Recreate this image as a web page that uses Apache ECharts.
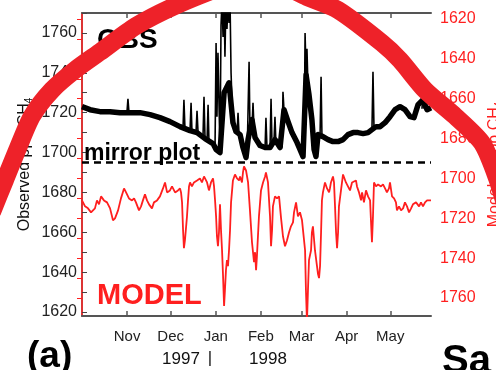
<!DOCTYPE html>
<html>
<head>
<meta charset="utf-8">
<script src="https://cdn.jsdelivr.net/npm/echarts@6/dist/echarts.min.js"></script>
<style>
  html, body { margin: 0; padding: 0; background: #fff; }
  #chart { width: 496px; height: 370px; }
</style>
</head>
<body>
<div id="chart"></div>
<script>
// x = days since 1 Oct 1997
var monthNames = ['Nov', 'Dec', 'Jan', 'Feb', 'Mar', 'Apr', 'May'];
var monthStarts = [31, 61, 92, 123, 151, 182, 212];

var obsLabels = [1620, 1640, 1660, 1680, 1700, 1720, 1740, 1760];
var obsTicks = [1620, 1630, 1640, 1650, 1660, 1670, 1680, 1690, 1700, 1710, 1720, 1730, 1740, 1750, 1760, 1770];
var modLabels = [1620, 1640, 1660, 1680, 1700, 1720, 1740, 1760];
var modTicks = [1620, 1630, 1640, 1650, 1660, 1670, 1680, 1690, 1700, 1710, 1720, 1730, 1740, 1750, 1760];

// observed CH4, background level (ppb)
var obsBand = [
  [0, 1723], [5.5, 1721.5], [12.4, 1720.5], [19.3, 1720.5], [26.1, 1720], [33, 1720], [39.9, 1720],
  [46.8, 1719], [53.6, 1717.5], [60.5, 1715.5], [67.4, 1713], [74.3, 1711], [79.1, 1710], [84.6, 1707],
  [90.1, 1704.5], [92.2, 1701.5], [94.9, 1700], [97.7, 1730], [101.1, 1735], [103.8, 1715], [105.9, 1710.5],
  [108.7, 1709], [110.7, 1702.5], [112.8, 1697.5], [114.2, 1706.5], [116.9, 1716.5], [119, 1707.5],
  [122.4, 1703.5], [125.9, 1702.5], [129.3, 1702.5], [132.7, 1706.5], [136.2, 1702.5], [138.9, 1721.5],
  [141.7, 1715.5], [144.4, 1710], [147.9, 1705], [149.9, 1701.5], [152, 1698], [154.1, 1739], [156.1, 1729],
  [158.1, 1716.5], [159.6, 1701.5], [160.9, 1698], [162.3, 1709], [165.7, 1708], [169.2, 1706.5],
  [172.6, 1705.5], [176.1, 1705.5], [179.5, 1706.5], [182.9, 1709], [186.4, 1710], [189.8, 1710],
  [193.3, 1709.5], [196.7, 1710], [199.4, 1711.5], [202.2, 1713], [205, 1713], [208.4, 1715], [211.8, 1718],
  [215.3, 1721.5], [218.7, 1723], [222.1, 1721.5], [225.6, 1718], [228.3, 1717.5], [231.1, 1724],
  [234.5, 1726.5], [237.3, 1721.5], [240, 1722.5]
];

// observed CH4, pollution events (ppb)
var obsSpikes = [
  [[30.9, 1720], [31.6, 1727], [32.3, 1720]],
  [[69.5, 1713], [70.1, 1726.5], [70.8, 1712]],
  [[74.3, 1711], [75, 1725], [75.6, 1711]],
  [[78.4, 1710], [79.1, 1721], [79.8, 1710]],
  [[83.2, 1707.5], [83.9, 1728], [84.6, 1707]],
  [[86, 1706], [86.7, 1724], [87.3, 1706]],
  [[90.1, 1704.5], [91.5, 1704], [92.2, 1755], [92.8, 1718], [93.5, 1750], [94.9, 1700], [95.6, 1764],
   [96.3, 1776], [97, 1758], [97.7, 1776], [98.3, 1748], [99, 1776], [99.7, 1762], [100.4, 1776],
   [101.1, 1765], [101.8, 1776], [102.5, 1740], [103.2, 1725], [103.8, 1715]],
  [[106.6, 1709], [107.3, 1720], [108, 1709]],
  [[113.5, 1697], [114.9, 1745.5], [115.5, 1712]],
  [[117, 1714], [117.6, 1725], [118.3, 1712]],
  [[125.9, 1702.5], [126.5, 1717.5], [127.2, 1702.5]],
  [[129.3, 1702.5], [130, 1727], [130.7, 1703]],
  [[132, 1705], [132.7, 1718], [133.4, 1704]],
  [[137.6, 1702.5], [138.2, 1730.5], [138.9, 1721.5]],
  [[152.7, 1698], [153.4, 1760], [154.1, 1739], [154.7, 1752], [155.4, 1733]],
  [[163.7, 1708], [164.4, 1738], [165, 1709]],
  [[199.4, 1711.5], [200.1, 1740.5], [200.8, 1712]],
  [[233.8, 1722], [234.5, 1730], [235.2, 1722]]
];

// modelled CH4 (ppb), plotted on the inverted right axis
var model = [
  [0, 1711], [2.1, 1714], [4.1, 1715], [6.2, 1717], [8.9, 1715], [10.3, 1711], [11.7, 1713], [13.1, 1709],
  [15.1, 1711], [17.2, 1712], [19.3, 1715], [21.3, 1721], [22.7, 1720], [24.8, 1716], [26.8, 1710],
  [28.9, 1705], [30.3, 1707], [32.3, 1710], [34.4, 1711], [35.8, 1710], [37.1, 1712], [39.2, 1716],
  [40.6, 1714], [41.9, 1711], [43.3, 1708], [44.7, 1711], [46.1, 1713], [48.1, 1715], [49.5, 1712],
  [51.6, 1711], [53.6, 1709], [55.7, 1705], [57.1, 1702], [58.5, 1707], [60.5, 1706], [61.9, 1704],
  [64, 1707], [66, 1706], [67.4, 1705], [68.1, 1707], [68.8, 1712], [69.5, 1726], [70.1, 1735],
  [70.8, 1731], [71.5, 1732], [72.2, 1719], [72.9, 1711], [73.6, 1704], [74.3, 1702], [75.6, 1704],
  [77, 1702], [79.1, 1701], [81.1, 1700], [82.5, 1702], [83.9, 1699], [86, 1702], [87.3, 1706],
  [88.7, 1702], [90.1, 1700], [90.8, 1704], [91.5, 1711], [92.2, 1719], [92.8, 1729], [93.5, 1734],
  [94.2, 1727], [94.9, 1713], [95.6, 1726], [96.3, 1736], [97, 1749], [97.7, 1764], [98.3, 1756],
  [99, 1746], [99.7, 1741], [100.4, 1744], [101.1, 1736], [101.8, 1726], [102.5, 1712], [103.8, 1701],
  [105.2, 1698], [106.6, 1700], [108, 1701], [108.7, 1699], [110, 1702], [110.7, 1697], [111.4, 1694],
  [112.8, 1696], [114.2, 1702], [115.5, 1716], [116.9, 1732], [118.3, 1742], [119, 1737], [119.7, 1746],
  [120.3, 1739], [121.7, 1719], [123.1, 1706], [124.5, 1702], [125.9, 1699], [126.5, 1697], [127.9, 1702],
  [129.3, 1719], [130, 1734], [130.7, 1726], [131.3, 1714], [132.7, 1709], [134.1, 1710], [135.5, 1709],
  [136.9, 1720], [138.2, 1729], [139.6, 1734], [141, 1731], [142.4, 1727], [143.7, 1724], [145.1, 1722],
  [145.8, 1717], [147.2, 1712], [148.5, 1719], [149.9, 1717], [151.3, 1721], [152, 1722], [153.4, 1736],
  [154, 1756], [154.7, 1772], [155.4, 1756], [156.1, 1741], [157.5, 1736], [158.1, 1727], [158.8, 1724],
  [160.2, 1736], [161.6, 1744], [162.3, 1748], [163, 1750], [163.7, 1744], [164.4, 1727], [165, 1711],
  [165.7, 1707], [167.1, 1702], [168.5, 1705], [169.9, 1707], [170.5, 1705], [171.2, 1702], [172.6, 1699],
  [173.3, 1702], [174, 1714], [174.7, 1727], [175.4, 1735], [176.1, 1727], [176.7, 1714], [177.4, 1710],
  [178.1, 1706], [179.5, 1698], [180.2, 1699], [181.5, 1702], [182.9, 1704], [184.3, 1706], [185.7, 1702],
  [187, 1701], [188.4, 1701], [189.1, 1704], [190.5, 1707], [191.9, 1711], [192.6, 1707], [193.9, 1712],
  [195.3, 1706], [196.7, 1709], [198.1, 1711], [198.7, 1721], [199.4, 1732], [200.1, 1719], [200.8, 1702],
  [202.2, 1704], [203.6, 1703], [205.6, 1704], [207, 1703], [208.4, 1705], [209.7, 1707], [211.1, 1705],
  [211.8, 1702], [213.2, 1709], [214.6, 1710], [215.9, 1712], [216.6, 1716], [218, 1714], [219.4, 1716],
  [220.8, 1715], [222.1, 1712], [223.5, 1714], [224.9, 1717], [226.3, 1715], [227.6, 1713], [229.7, 1712],
  [231.8, 1714], [233.1, 1712], [234.5, 1714], [235.9, 1712], [237.3, 1711], [238.6, 1712], [240, 1711]
];

var mirrorLevel = 1695;

var spikeData = [];
obsSpikes.forEach(function (s) {
  s.forEach(function (p) { spikeData.push(p); });
  spikeData.push([s[s.length - 1][0], '-']);
});

var FONT = 'Liberation Sans, Arial, Helvetica, sans-serif';
var RED = '#ff1f1f';
var plain = function (v) { return String(v); };

var chart = echarts.init(document.getElementById('chart'), null, { renderer: 'canvas' });

var option = {
  animation: false,
  backgroundColor: '#fff',
  grid: { left: 82, right: 65, top: 13, bottom: 54, containLabel: false, outerBoundsMode: 'none' },
  xAxis: [{
    type: 'value', position: 'bottom', min: 0, max: 240,
    axisLine: { lineStyle: { color: '#555', width: 2 } },
    axisTick: { inside: true, length: 5, customValues: monthStarts, lineStyle: { color: '#555', width: 1.5 } },
    axisLabel: {
      customValues: monthStarts, margin: 13, color: '#222', fontSize: 15, fontFamily: FONT,
      formatter: function (v) { return monthNames[monthStarts.indexOf(v)]; }
    },
    splitLine: { show: false }
  }, {
    type: 'value', position: 'top', min: 0, max: 240,
    axisLine: { lineStyle: { color: '#555', width: 2 } },
    axisTick: { inside: true, length: 5, customValues: monthStarts, lineStyle: { color: '#555', width: 1.5 } },
    axisLabel: { show: false },
    splitLine: { show: false }
  }],
  yAxis: [{
    type: 'value', position: 'left', min: 1618, max: 1770,
    name: 'Observed ppb CH{s|4}', nameLocation: 'middle', nameGap: 48, nameRotate: 90, nameMoveOverlap: false,
    nameTextStyle: { color: '#111', fontSize: 16, fontFamily: FONT, rich: { s: { fontSize: 10, fontFamily: FONT, color: '#111', padding: [8, 0, 0, 0] } } },
    axisLine: { show: true, lineStyle: { color: '#444', width: 1.5 } },
    axisTick: { inside: true, length: 5, customValues: obsTicks, lineStyle: { color: '#444' } },
    axisLabel: { customValues: obsLabels, margin: 5, color: '#222', fontSize: 16, fontFamily: FONT, formatter: plain },
    splitLine: { show: false }
  }, {
    type: 'value', position: 'right', min: 1617, max: 1769, inverse: true,
    name: 'Modeled ppb CH{s|4}', nameLocation: 'middle', nameGap: 55, nameRotate: 90, nameMoveOverlap: false,
    nameTextStyle: { color: RED, fontSize: 16, fontFamily: FONT, rich: { s: { fontSize: 10, fontFamily: FONT, color: RED, padding: [8, 0, 0, 0] } } },
    axisLine: { show: true, lineStyle: { color: RED, width: 1.5 } },
    axisTick: { inside: true, length: 5, customValues: modTicks, lineStyle: { color: RED } },
    axisLabel: { customValues: modLabels, margin: 9, color: RED, fontSize: 16, fontFamily: FONT, formatter: plain },
    splitLine: { show: false }
  }],
  series: [{
    name: 'obs', type: 'line', yAxisIndex: 0, data: obsBand, showSymbol: false, clip: true,
    lineStyle: { color: '#000', width: 5.5, join: 'round' },
    markLine: {
      silent: true, symbol: 'none', label: { show: false },
      lineStyle: { color: '#000', width: 2.5, type: [7, 5] },
      data: [{ yAxis: mirrorLevel }]
    },
    z: 3
  }, {
    name: 'obsSpikes', type: 'line', yAxisIndex: 0, data: spikeData, showSymbol: false, clip: true,
    connectNulls: false, lineStyle: { color: '#000', width: 1.6 }, z: 3
  }, {
    name: 'model', type: 'line', yAxisIndex: 1, data: model, showSymbol: false, clip: true,
    lineStyle: { color: RED, width: 1.8 }, z: 3
  }],
  graphic: [
    { type: 'text', left: 97, top: 26, z: 10, style: { text: 'OBS', fill: '#000', font: 'bold 28px ' + FONT } },
    { type: 'text', x: 84, y: 154, z: 10, style: { text: 'mirror plot', fill: '#000', font: 'bold 23px ' + FONT, textVerticalAlign: 'middle' } },
    { type: 'text', x: 97, y: 296, z: 10, style: { text: 'MODEL', fill: RED, font: 'bold 29px ' + FONT, textVerticalAlign: 'middle' } },
    { type: 'text', x: 27, y: 357, z: 10, style: { text: '(a)', fill: '#000', font: 'bold 37px ' + FONT, textVerticalAlign: 'middle' } },
    { type: 'text', x: 442, y: 362, z: 10, style: { text: 'Sa', fill: '#000', font: 'bold 40px ' + FONT, textVerticalAlign: 'middle' } },
    { type: 'text', x: 181, y: 359, z: 10, style: { text: '1997', fill: '#111', font: '17px ' + FONT, textAlign: 'center', textVerticalAlign: 'middle' } },
    { type: 'text', x: 210, y: 358, z: 10, style: { text: '|', fill: '#111', font: '17px ' + FONT, textAlign: 'center', textVerticalAlign: 'middle' } },
    { type: 'text', x: 268, y: 359, z: 10, style: { text: '1998', fill: '#111', font: '17px ' + FONT, textAlign: 'center', textVerticalAlign: 'middle' } },
    {
      type: 'polyline', z: 20, silent: true,
      shape: {
        points: [[-8, 212], [5, 180], [18, 148], [32, 116], [52, 90], [75, 70], [100, 52], [136, 26],
                 [177, 5], [232, -17], [254, -24], [276, -18], [307, -3], [338, 10], [382, 43], [400, 60],
                 [425, 90], [455, 116], [482, 143], [497, 178], [508, 215]],
        smooth: 0.25
      },
      style: { stroke: '#ee2229', lineWidth: 18, fill: null, lineJoin: 'round', lineCap: 'butt' }
    }
  ]
};

chart.setOption(option);
</script>
</body>
</html>
